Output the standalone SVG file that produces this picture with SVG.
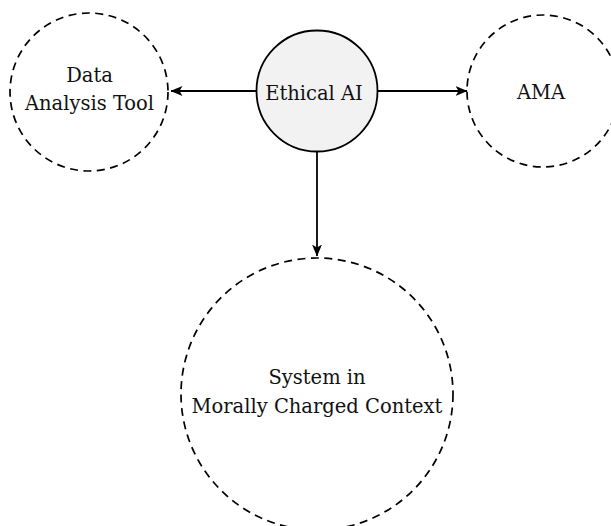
<svg xmlns="http://www.w3.org/2000/svg" width="611" height="526" viewBox="0 0 611 526">
  <defs>
    <marker id="arrow" viewBox="0 0 12 10" refX="11.5" refY="5" markerWidth="12" markerHeight="10" markerUnits="userSpaceOnUse" orient="auto">
      <path d="M0,0 L12,5 L0,10 L3,5 Z" fill="#000"/>
    </marker>
  </defs>
  <style>
    .dashed { fill: none; stroke: #000; stroke-width: 1.7; stroke-dasharray: 8 5.5; }
    .core { fill: #f2f2f2; stroke: #000; stroke-width: 1.8; }
    .label { font-family: "DejaVu Serif", "Liberation Serif", serif; font-size: 19.5px; fill: #111; text-anchor: middle; }
    .edge { stroke: #000; stroke-width: 1.8; fill: none; marker-end: url(#arrow); }
  </style>
  <rect width="611" height="526" fill="#fff"/>

  <g id="connectors">
    <line class="edge" x1="256.5" y1="91" x2="171" y2="91"/>
    <line class="edge" x1="377.5" y1="91" x2="467" y2="91"/>
    <line class="edge" x1="317" y1="151.5" x2="317" y2="256"/>
  </g>

  <g id="data-analysis-tool">
    <circle class="dashed" cx="89" cy="92" r="79"/>
    <text class="label" x="89.5" y="82">Data</text>
    <text class="label" x="89.5" y="110">Analysis Tool</text>
  </g>

  <g id="ethical-ai">
    <circle class="core" cx="317" cy="91" r="60.5"/>
    <text class="label" x="314" y="100">Ethical AI</text>
  </g>

  <g id="ama">
    <circle class="dashed" cx="543" cy="91" r="76"/>
    <text class="label" x="541" y="99">AMA</text>
  </g>

  <g id="system-in-context">
    <circle class="dashed" cx="317" cy="394" r="136"/>
    <text class="label" x="317" y="384">System in</text>
    <text class="label" x="317" y="413">Morally Charged Context</text>
  </g>
</svg>
